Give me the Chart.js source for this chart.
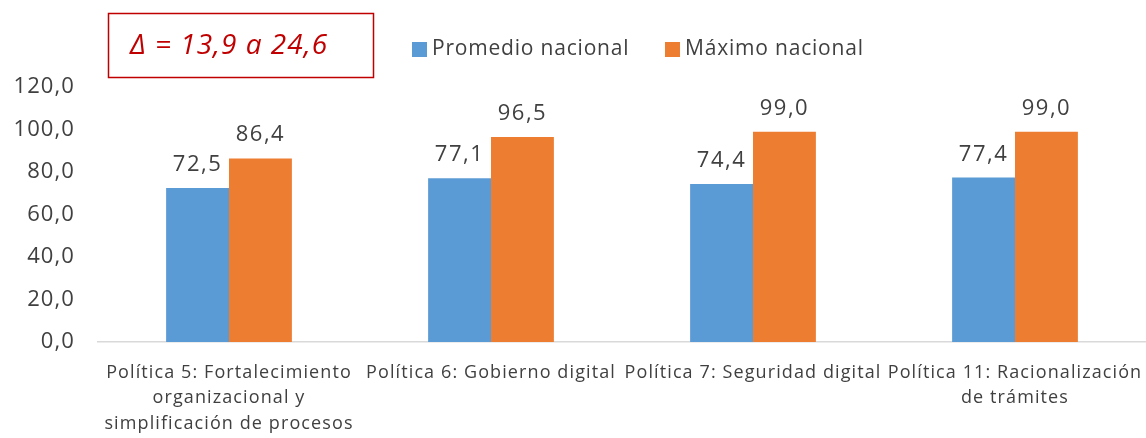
<!DOCTYPE html>
<html>
<head>
<meta charset="utf-8">
<script src="https://cdn.jsdelivr.net/npm/chart.js@4"></script>
<style>
  html, body { margin: 0; padding: 0; background: #fff; }
  #wrap { width: 1146px; height: 438px; position: relative; }
</style>
</head>
<body>
<div id="wrap"><canvas id="chart"></canvas></div>
<script>
  const categories = [
    ['Política 5: Fortalecimiento', 'organizacional y', 'simplificación de procesos'],
    'Política 6: Gobierno digital',
    'Política 7: Seguridad digital',
    ['Política 11: Racionalización', 'de trámites']
  ];
  const seriesNames = ['Promedio nacional', 'Máximo nacional'];
  const promedio = [72.5, 77.1, 74.4, 77.4];
  const maximo = [86.4, 96.5, 99.0, 99.0];
  const yTicks = [0, 20, 40, 60, 80, 100, 120];
  const deltaText = 'Δ = 13,9 a 24,6';

  const FONT = '"Open Sans", sans-serif';
  const TEXT = '#404040';
  const fmt = v => v.toFixed(1).replace('.', ',');

  // the original font is wider, so space letters a bit
  const spacing = {
    id: 'spacing',
    beforeDraw(chart) {
      chart.ctx.letterSpacing = '1.1px';
    }
  };

  const extras = {
    id: 'extras',
    afterDatasetsDraw(chart) {
      const ctx = chart.ctx;
      ctx.save();
      // value labels
      ctx.letterSpacing = '1.5px';
      ctx.font = '22px ' + FONT;
      ctx.fillStyle = TEXT;
      ctx.textAlign = 'center';
      ctx.textBaseline = 'alphabetic';
      chart.data.datasets.forEach((ds, i) => {
        chart.getDatasetMeta(i).data.forEach((bar, j) => {
          ctx.fillText(fmt(ds.data[j]), bar.x, bar.y - 17);
        });
      });

      // legend
      ctx.letterSpacing = '0.8px';
      ctx.font = '21px ' + FONT;
      ctx.textAlign = 'left';
      ctx.textBaseline = 'middle';
      const legendX = [412, 665];
      chart.data.datasets.forEach((ds, i) => {
        ctx.fillStyle = ds.backgroundColor;
        ctx.fillRect(legendX[i], 42, 15, 15);
        ctx.fillStyle = TEXT;
        ctx.fillText(ds.label, legendX[i] + 20, 49);
      });

      // delta box
      ctx.strokeStyle = '#c00000';
      ctx.lineWidth = 1.5;
      ctx.strokeRect(108.5, 13.5, 265, 64);
      ctx.fillStyle = '#c00000';
      ctx.letterSpacing = '1px';
      ctx.font = 'italic 28px ' + FONT;
      ctx.fillText(deltaText, 130, 46);
      ctx.restore();
    }
  };

  new Chart(document.getElementById('chart'), {
    type: 'bar',
    data: {
      labels: categories,
      datasets: [
        { label: seriesNames[0], data: promedio, backgroundColor: '#5B9BD5' },
        { label: seriesNames[1], data: maximo, backgroundColor: '#ED7D31' }
      ]
    },
    options: {
      responsive: true,
      maintainAspectRatio: false,
      animation: false,
      layout: { padding: { top: 87, right: 0, bottom: 0, left: 0 } },
      plugins: {
        legend: { display: false },
        tooltip: { enabled: false }
      },
      datasets: {
        bar: { categoryPercentage: 0.48, barPercentage: 1 }
      },
      scales: {
        x: {
          afterFit: axis => { axis.height = 96; },
          grid: { display: false, drawTicks: false },
          border: { display: true, color: '#d9d9d9', width: 1.5 },
          ticks: {
            color: TEXT,
            font: { family: FONT, size: 18, lineHeight: 1.42 },
            autoSkip: false,
            maxRotation: 0,
            padding: 18
          }
        },
        y: {
          min: 0,
          max: 120,
          afterBuildTicks: axis => { axis.ticks = yTicks.map(v => ({ value: v })); },
          afterFit: axis => { axis.width = 98; },
          grid: { display: false, drawTicks: false },
          border: { display: false },
          ticks: {
            color: TEXT,
            font: { family: FONT, size: 22 },
            padding: 23,
            callback: v => fmt(v)
          }
        }
      }
    },
    plugins: [spacing, extras]
  });
</script>
</body>
</html>
